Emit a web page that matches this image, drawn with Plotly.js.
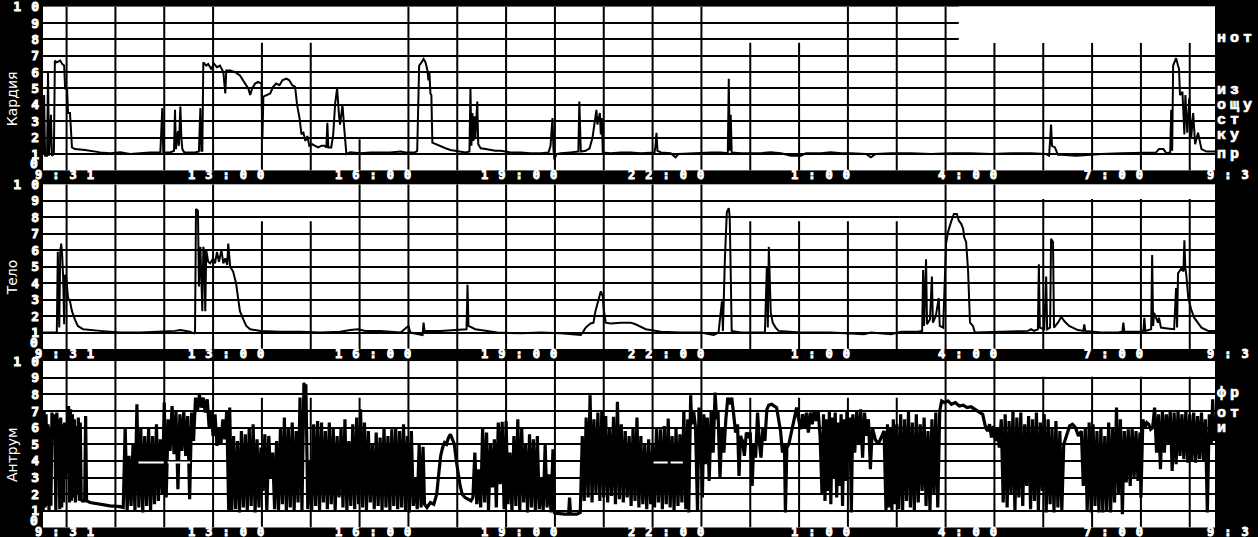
<!DOCTYPE html>
<html><head><meta charset="utf-8">
<script src="https://cdn.plot.ly/plotly-3.0.1.min.js"></script>
<style>
html,body{margin:0;padding:0;background:#000;overflow:hidden;}
#chart{width:1258px;height:537px;}
text[style*="DejaVu Sans Mono"]{letter-spacing:10px;stroke:#fff;stroke-width:0.9px;}
text[style*="Liberation Mono"]{letter-spacing:4px;stroke:#fff;stroke-width:0.7px;}
</style></head><body><div id="chart"></div>
<script>
// ---- data: [clock hour (next day > 24), pH] ----
const kardiaPts = [
[9.52,1.0],[9.54,4.6],[9.56,0.9],[9.60,0.9],[9.62,6.0],[9.64,0.9],[9.68,3.4],[9.70,0.9],[9.74,1.0],[9.76,6.7],[9.80,6.6],[9.87,6.7],[9.91,6.5],[9.95,6.4],[9.97,5.0],[10.01,5.0],[10.03,3.5],[10.07,3.5],[10.11,1.4],[10.17,1.3],[10.38,1.25],[10.48,1.2],[10.69,1.1],[10.89,1.05],[11.10,1.1],[11.30,1.0],[11.50,1.05],[11.71,1.1],[11.92,1.1],[11.96,3.8],[11.98,1.1],[12.12,1.1],[12.20,1.2],[12.22,3.7],[12.24,1.3],[12.28,2.4],[12.30,1.5],[12.33,3.9],[12.35,2.0],[12.37,1.3],[12.41,1.1],[12.63,1.1],[12.71,1.15],[12.74,3.8],[12.76,1.2],[12.78,1.2],
[12.80,6.6],[12.86,6.4],[12.90,6.5],[12.96,6.2],[13.02,6.5],[13.08,6.3],[13.14,6.4],[13.21,6.0],[13.25,4.7],[13.27,6.1],[13.35,6.1],[13.45,6.0],[13.55,5.8],[13.64,5.4],[13.72,5.0],[13.76,4.6],[13.80,5.0],[13.86,5.3],[13.92,5.4],[13.99,5.3],[14.01,1.9],[14.03,4.5],[14.11,4.6],[14.17,4.7],[14.23,5.1],[14.29,5.3],[14.36,5.2],[14.42,5.5],[14.50,5.6],[14.56,5.5],[14.62,5.2],[14.68,5.1],[14.72,4.0],[14.77,3.2],[14.81,2.2],[14.85,2.3],[14.89,1.8],[14.93,2.1],[14.97,1.5],[15.03,1.6],[15.09,1.5],[15.15,1.4],[15.22,1.5],[15.28,1.5],[15.32,1.4],[15.34,2.9],[15.36,1.4],[15.42,1.4],[15.46,2.2],[15.50,4.1],[15.54,5.0],[15.56,3.9],[15.58,3.3],[15.60,2.8],[15.65,4.0],[15.69,2.4],[15.73,1.0],
[15.81,1.1],[16.02,1.05],[16.22,1.1],[16.43,1.1],[16.63,1.1],[16.84,1.15],[16.94,1.1],[17.04,1.1],[17.14,1.1],[17.18,1.2],[17.20,5.2],[17.22,6.4],[17.27,6.6],[17.31,6.8],[17.35,6.6],[17.39,6.1],[17.41,5.5],[17.43,6.0],[17.45,4.7],[17.47,4.6],[17.49,1.7],[17.57,1.6],[17.66,1.45],[17.76,1.35],[17.86,1.25],[17.96,1.2],[18.07,1.15],[18.17,1.1],[18.25,1.15],[18.27,5.0],[18.29,1.5],[18.31,3.5],[18.33,1.8],[18.35,3.3],[18.37,1.9],[18.39,3.0],[18.41,4.2],[18.43,1.6],[18.48,1.35],[18.58,1.3],[18.68,1.25],[18.78,1.2],[18.89,1.2],[18.99,1.15],[19.09,1.1],[19.30,1.1],[19.50,1.05],[19.71,1.05],[19.87,1.1],[19.91,1.5],[19.95,3.2],[19.97,1.3],[19.99,0.65],[20.03,1.0],
[20.12,1.05],[20.32,1.1],[20.48,1.15],[20.50,4.2],[20.53,1.15],[20.63,1.2],[20.71,1.35],[20.77,2.0],[20.81,3.0],[20.85,3.7],[20.87,2.8],[20.92,3.5],[20.94,2.2],[20.96,3.2],[20.98,1.1],[21.14,1.05],[21.35,1.1],[21.55,1.1],[21.76,1.05],[21.96,1.1],[22.04,1.1],[22.06,1.5],[22.08,2.3],[22.10,1.2],[22.17,1.1],[22.37,1.05],[22.47,0.8],[22.53,1.0],[22.78,1.05],[22.99,1.05],[23.19,1.1],[23.40,1.1],[23.54,1.05],[23.56,5.6],[23.58,1.2],[23.60,3.4],[23.62,1.1],[23.81,1.05],[24.01,1.05],[24.22,1.05],[24.42,1.1],[24.63,1.05],[24.83,0.9],[25.04,0.9],[25.14,1.05],[25.45,1.05],[25.65,1.1],[25.86,1.05],[26.06,1.05],[26.37,1.0],[26.47,0.8],[26.57,1.0],[26.88,1.05],[27.29,1.05],[27.70,1.0],[28.11,1.05],[28.52,1.05],[28.93,1.0],[29.34,1.05],[29.75,1.05],[30.06,1.0],[30.12,0.9],[30.16,2.8],[30.18,1.5],[30.24,1.4],[30.30,0.95],[30.37,0.95],[30.67,0.9],[30.98,0.95],
[31.19,1.0],[31.60,1.05],[32.01,1.1],[32.31,1.1],[32.37,1.3],[32.46,1.3],[32.52,1.05],[32.60,1.1],[32.62,3.7],[32.64,1.2],[32.66,6.4],[32.72,6.85],[32.76,6.4],[32.78,6.2],[32.80,4.6],[32.85,4.8],[32.89,2.2],[32.91,4.6],[32.95,2.3],[32.99,4.4],[33.03,2.0],[33.07,3.5],[33.11,1.6],[33.17,2.3],[33.24,1.3],[33.34,1.15],[33.52,1.15]
];
const teloPts = [
[9.52,1.0],[9.66,1.0],[9.80,1.0],[9.82,5.9],[9.85,1.3],[9.87,5.9],[9.89,6.4],[9.91,5.7],[9.93,4.3],[9.95,1.5],[9.97,4.5],[9.99,4.4],[10.03,3.1],[10.07,2.9],[10.11,2.3],[10.17,1.8],[10.23,1.4],[10.34,1.2],[10.48,1.15],[10.69,1.1],[10.89,1.05],[11.10,1.0],[11.50,1.0],[11.92,1.05],[12.22,1.1],[12.33,1.15],[12.53,1.05],[12.61,0.95],[12.63,1.0],
[12.65,8.5],[12.69,8.4],[12.71,3.8],[12.74,6.2],[12.78,2.3],[12.80,6.2],[12.82,5.9],[12.84,2.3],[12.86,6.0],[12.90,5.3],[12.94,5.2],[13.00,5.5],[13.04,5.2],[13.08,5.9],[13.12,5.3],[13.17,6.0],[13.21,5.2],[13.25,5.5],[13.29,5.1],[13.31,6.4],[13.35,5.0],[13.41,4.7],[13.47,4.0],[13.51,3.0],[13.55,2.3],[13.62,1.8],[13.68,1.4],[13.76,1.2],[13.97,1.1],[14.38,1.05],[14.79,1.05],[15.20,1.0],[15.60,1.05],[15.81,1.15],[15.97,1.2],[16.12,1.1],[16.43,1.1],[16.84,1.0],[17.00,1.4],[17.04,1.0],[17.29,0.85],[17.31,1.6],[17.33,1.1],[17.66,1.1],[18.07,1.15],[18.19,1.2],[18.21,3.9],[18.23,1.4],[18.37,1.2],[18.58,1.1],[18.82,1.0],[19.30,0.95],[19.71,1.0],[20.12,0.95],[20.53,0.85],
[20.59,1.1],[20.63,1.3],[20.73,1.55],[20.79,1.6],[20.83,2.3],[20.89,3.0],[20.94,3.5],[20.98,3.2],[21.00,2.4],[21.04,1.6],[21.14,1.55],[21.35,1.6],[21.55,1.6],[21.65,1.5],[21.76,1.35],[21.86,1.2],[21.96,1.15],[22.17,1.05],[22.58,1.0],[22.99,1.0],[23.25,0.85],[23.35,1.0],[23.42,2.9],[23.44,1.1],[23.48,5.4],[23.52,8.3],[23.56,8.55],[23.58,8.0],[23.60,4.6],[23.62,1.1],[23.81,1.0],[24.22,1.0],[24.30,1.0],[24.34,5.0],[24.36,1.3],[24.38,6.2],[24.42,2.2],[24.46,1.6],[24.52,1.3],[24.58,1.1],[25.04,1.0],[25.65,1.0],[26.33,0.9],[26.47,1.0],[26.88,0.9],[27.09,1.05],[27.43,1.05],
[27.52,1.1],[27.54,4.8],[27.56,1.4],[27.60,5.45],[27.62,1.5],[27.68,1.8],[27.72,4.4],[27.74,1.6],[27.80,2.0],[27.86,3.1],[27.88,1.4],[27.95,1.3],[28.01,6.4],[28.05,7.1],[28.11,7.7],[28.17,8.2],[28.23,8.2],[28.27,7.8],[28.32,7.6],[28.36,7.3],[28.38,6.8],[28.42,6.5],[28.46,4.8],[28.48,3.0],[28.50,1.6],[28.56,1.4],[28.60,1.0],[29.14,1.05],[29.69,1.1],[29.75,1.2],[29.81,1.1],[29.89,1.2],[29.91,5.15],[29.93,1.3],[30.02,1.2],[30.06,4.4],[30.08,1.2],[30.14,1.3],[30.16,6.7],[30.20,6.5],[30.22,1.3],[30.30,1.6],[30.37,1.95],[30.43,1.7],[30.53,1.4],[30.71,1.15],[30.82,1.1],[30.84,1.5],[30.86,1.1],
[31.19,1.0],[31.53,1.0],[31.62,1.05],[31.64,1.6],[31.66,1.05],[32.01,1.05],[32.05,1.1],[32.07,1.9],[32.09,1.1],[32.21,1.2],[32.23,5.7],[32.25,1.4],[32.27,2.2],[32.35,1.6],[32.37,1.9],[32.41,1.3],[32.54,1.25],[32.68,1.2],[32.72,3.7],[32.74,1.3],[32.76,4.6],[32.83,4.9],[32.87,4.7],[32.89,6.6],[32.91,4.9],[32.93,4.5],[32.97,3.1],[33.03,2.4],[33.09,1.9],[33.17,1.6],[33.24,1.3],[33.38,1.1],[33.52,1.1]
];
const antrumPts = [
[9.52,1.0],[9.54,7.0],[9.56,1.2],[9.58,6.8],[9.60,1.3],[9.62,6.2],[9.64,1.0],[9.66,6.0],[9.68,1.3],[9.70,6.9],[9.72,5.4],[9.74,6.8],[9.76,5.6],[9.78,1.0],[9.80,6.9],[9.82,5.5],[9.84,6.5],[9.86,1.1],[9.88,6.6],[9.90,1.2],[9.92,6.2],[9.94,1.5],[9.96,6.3],[9.98,3.0],[10.00,6.0],[10.02,3.2],[10.04,7.3],[10.06,1.5],[10.08,7.1],[10.10,1.6],[10.12,6.8],[10.14,1.8],[10.16,6.5],[10.18,1.5],[10.20,6.1],[10.22,2.0],[10.24,6.6],[10.26,1.6],[10.28,6.3],[10.30,1.7],[10.32,1.6],[10.37,1.6],[10.39,6.7],[10.41,1.6],[10.48,1.5],[10.69,1.4],[10.89,1.3],[11.10,1.25],[11.14,1.2],
[11.16,1.2],[11.20,6.0],[11.24,1.0],[11.28,4.3],[11.32,1.3],[11.36,5.0],[11.40,1.0],[11.44,7.4],[11.48,1.2],[11.52,6.0],[11.56,0.9],[11.60,5.5],[11.64,1.3],[11.68,6.0],[11.72,1.0],[11.76,5.5],[11.80,1.4],[11.84,6.2],[11.88,1.6],[11.92,5.3],[11.96,2.0],[12.00,7.5],[12.04,1.8],[12.08,6.5],[12.12,4.6],[12.16,7.3],[12.20,4.4],[12.24,7.0],[12.28,2.3],[12.32,6.8],[12.36,4.6],[12.40,7.0],[12.44,4.3],[12.48,6.7],[12.52,1.7],[12.56,6.9],[12.60,5.2],[12.64,7.8],[12.68,7.0],[12.72,8.0],[12.76,7.2],[12.80,7.8],[12.84,6.9],[12.88,7.7],[12.92,6.0],[12.96,7.0],[13.00,5.5],[13.04,6.8],[13.08,4.9],[13.12,5.9],[13.16,5.0],[13.20,6.5],[13.24,5.3],[13.28,7.0],[13.32,1.0],[13.34,7.2],
[13.38,1.0],[13.42,5.5],[13.46,1.1],[13.50,5.2],[13.54,0.9],[13.58,5.8],[13.62,1.2],[13.66,5.6],[13.70,1.0],[13.74,6.0],[13.78,1.3],[13.82,6.2],[13.86,0.9],[13.90,5.3],[13.94,1.2],[13.98,4.8],[14.02,2.2],[14.06,5.6],[14.10,1.0],[14.14,5.5],[14.18,3.0],[14.22,4.5],[14.26,1.1],[14.30,5.2],[14.34,1.0],[14.38,6.0],[14.42,1.4],[14.46,6.6],[14.50,1.0],[14.54,6.0],[14.58,1.2],[14.62,6.3],[14.66,1.0],[14.70,5.8],[14.74,1.5],[14.78,7.8],[14.82,1.0],[14.86,8.7],[14.88,7.8],[14.90,8.6],[14.94,1.1],[14.98,4.0],[15.02,1.0],[15.06,6.2],[15.10,1.3],[15.14,6.4],[15.18,1.0],[15.22,6.3],[15.26,1.5],[15.30,5.8],[15.34,1.1],[15.38,6.3],[15.42,1.4],[15.46,6.0],[15.50,1.0],[15.54,5.5],[15.58,1.8],[15.62,6.0],[15.66,1.2],[15.70,6.5],[15.74,1.0],[15.78,5.2],[15.82,1.3],[15.86,6.2],[15.90,1.1],[15.94,6.6],[15.98,1.4],[16.02,7.1],[16.06,1.2],[16.10,6.3],[16.14,1.0],[16.18,5.8],[16.22,1.5],[16.26,5.0],[16.30,1.1],[16.34,5.7],[16.38,1.3],[16.42,5.4],[16.46,1.0],[16.50,6.0],[16.54,1.2],[16.58,5.5],[16.62,1.0],[16.66,5.9],[16.70,1.3],[16.74,6.0],[16.78,1.1],[16.82,5.8],[16.86,1.2],[16.90,6.2],[16.94,1.0],[16.98,5.5],[17.02,0.9],[17.06,5.8],[17.10,1.3],[17.14,3.0],[17.18,1.1],[17.22,5.0],[17.26,1.2],
[17.30,4.85],[17.33,1.4],[17.38,1.2],[17.45,1.5],[17.52,1.4],[17.58,2.0],[17.62,3.2],[17.66,4.3],[17.70,4.8],[17.74,5.1],[17.78,5.0],[17.82,5.4],[17.86,5.6],[17.90,5.3],[17.94,5.0],[17.98,4.0],[18.02,3.2],[18.06,2.5],[18.10,2.0],[18.16,1.8],[18.22,1.7],[18.28,1.6],[18.32,1.8],
[18.36,4.5],[18.40,1.4],[18.44,3.5],[18.48,1.2],[18.52,6.0],[18.56,1.5],[18.60,5.7],[18.64,1.0],[18.68,5.0],[18.72,2.4],[18.76,5.3],[18.80,1.2],[18.84,6.3],[18.88,2.6],[18.92,6.35],[18.96,1.1],[19.00,6.4],[19.04,1.4],[19.08,4.5],[19.12,1.0],[19.16,5.5],[19.20,1.3],[19.24,6.5],[19.28,1.0],[19.32,6.0],[19.36,1.5],[19.40,5.0],[19.44,0.9],[19.48,5.6],[19.52,1.2],[19.56,5.3],[19.60,1.0],[19.64,5.5],[19.68,1.1],[19.72,3.0],[19.76,1.0],[19.80,5.0],[19.84,1.2],[19.88,3.2],[19.92,0.9],[19.96,4.7],[19.99,0.9],
[20.05,0.85],[20.20,0.8],[20.28,0.8],[20.30,1.8],[20.32,0.8],[20.45,0.8],[20.52,0.9],
[20.56,5.5],[20.60,1.6],[20.64,6.6],[20.68,1.8],[20.72,7.95],[20.76,1.5],[20.80,6.5],[20.84,2.0],[20.88,6.9],[20.92,1.6],[20.96,7.0],[21.00,1.8],[21.04,6.7],[21.08,1.5],[21.12,6.0],[21.16,1.9],[21.20,6.65],[21.24,1.4],[21.28,7.55],[21.32,1.7],[21.36,6.2],[21.40,1.5],[21.44,5.8],[21.48,1.8],[21.52,5.5],[21.56,1.3],[21.60,6.0],[21.64,1.6],[21.68,6.6],[21.72,1.2],[21.76,5.5],[21.80,1.4],[21.84,5.0],[21.88,1.1],[21.92,5.3],[21.96,1.4],[22.00,5.0],[22.04,1.2],[22.08,6.0],[22.12,1.5],[22.16,5.9],[22.20,1.1],[22.24,6.1],[22.28,1.4],[22.32,6.55],[22.36,1.2],[22.40,5.5],[22.44,1.0],[22.48,6.0],[22.52,1.3],[22.56,5.6],[22.60,1.5],[22.64,7.05],[22.68,1.1],[22.72,6.5],[22.74,0.9],
[22.78,7.95],[22.80,6.2],[22.84,7.0],[22.88,6.0],[22.92,1.0],[22.95,7.2],[22.98,6.1],[23.02,1.8],[23.05,6.8],[23.08,3.8],[23.12,6.6],[23.16,2.8],[23.20,7.0],[23.24,4.5],[23.28,8.1],[23.31,6.5],[23.34,7.0],[23.38,3.0],[23.42,6.0],[23.46,4.5],[23.50,6.5],[23.54,7.8],[23.58,7.4],[23.62,7.8],[23.66,6.8],[23.70,5.7],[23.74,6.2],[23.77,3.1],[23.80,5.5],[23.84,5.2],[23.88,4.3],[23.92,5.7],[23.96,5.5],[24.00,5.7],[24.04,2.5],[24.07,5.0],[24.11,4.2],[24.15,6.9],[24.19,5.0],[24.22,4.2],[24.26,6.0],[24.30,5.2],[24.34,7.1],[24.38,7.35],[24.44,7.4],[24.50,7.3],[24.54,7.2],[24.58,6.5],[24.62,5.8],[24.66,4.5],[24.70,5.0],[24.72,0.9],[24.75,4.8],[24.79,5.0],[24.83,5.6],[24.87,6.0],[24.91,6.8],[24.95,7.2],[24.99,6.5],[25.03,5.9],[25.07,6.8],[25.11,6.0],[25.15,6.9],[25.19,5.7],[25.23,6.9],[25.27,6.2],[25.31,7.0],[25.35,6.4],[25.39,7.0],[25.43,5.5],
[25.47,2.0],[25.50,6.8],[25.53,1.6],[25.56,6.5],[25.59,2.2],[25.62,7.0],[25.65,1.4],[25.68,6.6],[25.71,3.0],[25.74,6.9],[25.77,1.8],[25.80,6.3],[25.83,2.5],[25.86,6.8],[25.89,1.3],[25.92,6.5],[25.95,2.8],[25.98,7.0],[26.01,4.0],[26.04,6.6],[26.07,0.9],[26.10,6.8],[26.14,4.5],[26.18,7.0],[26.22,5.0],[26.26,7.1],[26.30,4.2],[26.34,6.9],[26.38,5.5],[26.42,6.5],[26.46,3.5],[26.50,6.0],[26.56,5.3],[26.62,5.0],[26.68,5.4],[26.74,5.8],[26.78,1.0],[26.81,6.2],[26.84,1.2],[26.87,6.0],[26.90,1.0],[26.93,6.5],[26.96,1.4],[27.00,6.2],[27.04,1.1],[27.08,6.8],[27.12,1.0],[27.16,6.5],[27.20,1.6],[27.24,7.0],[27.28,1.2],[27.32,6.3],[27.36,1.0],[27.40,6.8],[27.44,1.5],[27.48,6.2],[27.52,2.2],[27.56,6.6],[27.60,1.3],[27.64,5.8],[27.68,1.0],[27.72,6.5],[27.76,2.0],[27.80,6.9],[27.84,1.2],[27.88,7.0],
[27.92,7.6],[27.98,7.5],[28.05,7.6],[28.12,7.4],[28.20,7.5],[28.28,7.3],[28.36,7.35],[28.44,7.2],[28.52,7.25],[28.60,7.1],[28.68,7.0],[28.76,6.8],[28.82,6.0],[28.86,5.8],[28.90,6.2],[28.94,5.4],[28.98,6.1],[29.02,5.2],[29.06,6.0],[29.10,4.8],[29.14,6.5],[29.18,1.5],[29.22,6.8],[29.26,1.2],[29.30,6.4],[29.34,2.0],[29.38,7.0],[29.42,1.0],[29.46,6.6],[29.50,1.8],[29.54,6.9],[29.58,1.3],[29.62,6.2],[29.66,2.5],[29.70,6.7],[29.74,1.1],[29.78,6.5],[29.82,1.6],[29.86,6.9],[29.90,1.0],[29.94,6.3],[29.98,2.2],[30.02,6.8],[30.06,0.9],[30.10,6.5],[30.14,1.4],[30.18,6.0],[30.22,0.9],[30.26,6.4],[30.30,1.2],[30.34,5.8],[30.38,1.0],[30.42,5.0],[30.48,5.6],[30.54,6.1],[30.60,6.2],[30.66,6.0],[30.72,5.5],[30.78,5.8],[30.82,2.5],[30.86,6.0],[30.90,1.0],[30.94,6.3],[30.98,0.9],[31.02,6.2],[31.06,1.3],[31.10,5.8],[31.14,0.9],
[31.18,6.0],[31.22,0.9],[31.26,5.5],[31.30,1.0],[31.34,6.3],[31.38,0.9],[31.42,6.0],[31.46,1.5],[31.50,7.2],[31.54,2.0],[31.58,6.5],[31.62,0.8],[31.66,5.8],[31.70,2.7],[31.74,5.9],[31.78,2.5],[31.82,6.0],[31.86,3.0],[31.90,5.8],[31.94,2.8],[31.98,5.7],[32.00,1.8],[32.04,6.5],[32.08,6.0],[32.12,6.3],[32.16,6.2],[32.20,5.9],[32.24,6.0],[32.28,7.2],[32.32,4.5],[32.36,6.8],[32.40,3.5],[32.44,7.0],[32.48,4.5],[32.52,6.8],[32.56,5.0],[32.60,7.0],[32.64,3.4],[32.68,6.9],[32.72,3.8],[32.76,7.0],[32.80,4.3],[32.84,6.8],[32.88,4.1],[32.92,7.0],[32.96,3.9],[33.00,6.8],[33.04,4.0],[33.08,6.9],[33.12,3.9],[33.16,6.7],[33.20,4.1],[33.24,6.9],[33.28,4.0],[33.32,6.5],[33.36,0.9],[33.40,6.8],[33.44,5.0],[33.47,7.7],[33.50,5.2],[33.52,6.0]
];
// white marker dashes in the antrum panel (start, end) at pH level
const antrumMarks = [[11.47,11.99],[12.07,12.53],[22.02,22.31],[22.37,22.62]];
const antrumMarkLevel = 3.9;

// ---- axes / labels ----
const tStart = 9.517, tEnd = 33.517;
const hourLines = [10,11,12,13,14,15,16,17,18,19,20,21,22,23,24,25,26,27,28,29,30,31,32,33];
const gridTopKardia = [10,10,10,10,7.8,7.8,1.9,10,10,10,10,10,10,10,7.8,7.8,10,10,10,7.8,7.8,7.8,7.8,7.8];
const gridTopTelo   = [10,10,10,10,7.75,7.75,10,10,10,10,10,10,10,10,7.75,7.75,7.75,7.75,10,10,9.1,9.1,9.1,9.1];
const gridTopAntrum = [10,10,10,10,7.8,7.8,7.8,10,10,10,10,10,10,10,7.8,7.8,7.8,7.8,10,10,9.05,9.05,9.05,9.05];
const timeLabelAt   = [9.517,13,16,19,22,25,28,31,33.517];
const timeLabelText = ['9:31','13:00','16:00','19:00','22:00','1:00','4:00','7:00','9:31'];
const yTickVals = [1,2,3,4,5,6,7,8,9,10];
const yTickText = ['1','2','3','4','5','6','7','8','9','10'];
const panelNames = ['Кардия','Тело','Антрум'];
const notesKardiaText = ['нот','из','ощу','ст','ку','пр'];
const notesKardiaY    = [8.04,4.9,3.99,3.07,2.1,0.94];
const notesAntrumText = ['фр','от','и'];
const notesAntrumY    = [8.02,6.82,5.92];

const domains = [[0.6827,0.9877],[0.3501,0.6568],[0.0177,0.3277]];
const series = [kardiaPts, teloPts, antrumPts];
const lineWidths = [2, 2, 3.2];
const tops = [gridTopKardia, gridTopTelo, gridTopAntrum];

const MONO = 'DejaVu Sans Mono';
const traces = [], shapes = [], annotations = [];
const layout = {
  width:1258, height:537, margin:{l:43,r:43,t:0,b:0,pad:0},
  paper_bgcolor:'#000', plot_bgcolor:'#fff', showlegend:false,
  shapes, annotations
};
for (let k=0;k<3;k++){
  const xa = k===0?'x':'x'+(k+1), ya = k===0?'y':'y'+(k+1);
  const xk = k===0?'xaxis':'xaxis'+(k+1), yk = k===0?'yaxis':'yaxis'+(k+1);
  layout[xk] = {domain:[0,1], range:[tStart,tEnd], anchor:ya, showgrid:false, zeroline:false,
    showline:false, showticklabels:false, ticks:'', fixedrange:true};
  layout[yk] = {domain:domains[k], range:[0,10], anchor:xa, tickvals:yTickVals, ticktext:yTickText,
    showgrid:true, gridcolor:'#000', gridwidth:2, zeroline:false, showline:false, ticks:'',
    ticklabelstandoff:-7, ticklabeloverflow:'allow',
    tickfont:{family:MONO, size:13, color:'#fff', weight:'bold'}, fixedrange:true};
  traces.push({type:'scatter', mode:'lines', xaxis:xa, yaxis:ya,
    x:series[k].map(p=>p[0]), y:series[k].map(p=>p[1]),
    line:{color:'#000', width:lineWidths[k]}, hoverinfo:'skip'});
  hourLines.forEach((h,i)=>{
    shapes.push({type:'line', xref:xa, yref:ya, x0:h, x1:h, y0:0, y1:tops[k][i],
      line:{color:'#000', width:2}, layer:'between'});
  });
  annotations.push({xref:'paper', x:0, xanchor:'center', xshift:-31, yref:ya, y:4.35, yanchor:'middle',
    text:panelNames[k], textangle:-90, showarrow:false,
    font:{family:'DejaVu Sans', size:14, color:'#fff'}});
  annotations.push({xref:'paper', x:0, xanchor:'right', xshift:7, yref:ya, y:0.42, yanchor:'middle',
    text:'0', showarrow:false, font:{family:MONO, size:13, color:'#fff', weight:'bold'}});
  timeLabelAt.forEach((t,i)=>{
    annotations.push({xref:xa, x:t, xanchor:'right', xshift:63, yref:'paper', y:domains[k][0],
      yanchor:'middle', yshift:-5, text:timeLabelText[i], showarrow:false,
      font:{family:MONO, size:12, color:'#fff', weight:'bold'}});
  });
}
const mx=[], my=[];
antrumMarks.forEach(m=>{ mx.push(m[0],m[1],null); my.push(antrumMarkLevel,antrumMarkLevel,null); });
traces.push({type:'scatter', mode:'lines', xaxis:'x3', yaxis:'y3', x:mx, y:my,
  line:{color:'#fff', width:2}, hoverinfo:'skip'});
shapes.push({type:'rect', xref:'x', yref:'y', x0:28.27, x1:34, y0:7.8, y1:10.5,
  fillcolor:'#fff', line:{width:0}, layer:'above'});
notesKardiaText.forEach((s,i)=>annotations.push({xref:'paper', x:1, xanchor:'left', xshift:0,
  yref:'y', y:notesKardiaY[i], yanchor:'middle', text:s, showarrow:false,
  font:{family:'Liberation Mono', size:15, color:'#fff', weight:'bold'}}));
notesAntrumText.forEach((s,i)=>annotations.push({xref:'paper', x:1, xanchor:'left', xshift:0,
  yref:'y3', y:notesAntrumY[i], yanchor:'middle', text:s, showarrow:false,
  font:{family:'Liberation Mono', size:15, color:'#fff', weight:'bold'}}));

Plotly.newPlot('chart', traces, layout, {displayModeBar:false, staticPlot:true});
</script></body></html>
